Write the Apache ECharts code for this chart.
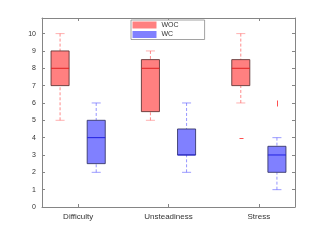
<!DOCTYPE html>
<html><head><meta charset="utf-8">
<script src="https://cdn.jsdelivr.net/npm/echarts@6/dist/echarts.min.js"></script>
<style>html,body{margin:0;padding:0;background:#fff}#c{width:327px;height:245px}</style>
</head><body><div id="c"></div>
<script>
var categories = ['Difficulty', 'Unsteadiness', 'Stress'];
// [min, Q1, median, Q3, max]
var wocStats = [[5, 7, 8, 9, 10], [5, 5.5, 8, 8.5, 9], [6, 7, 8, 8.5, 10]];
var wcStats = [[2, 2.5, 4, 5, 6], [2, 3, 3, 4.5, 6], [1, 2, 3, 3.5, 4]];
// outliers: [categoryIndex, value]
var wocOutliers = [[2, 4]];
var wcOutliers = [[2, 6]];
var yTicks = [0, 1, 2, 3, 4, 5, 6, 7, 8, 9, 10];

var chart = echarts.init(document.getElementById('c'), null, {renderer: 'canvas'});

function boxSeries(name, stats, offset, fill, stroke, medColor, whiskColor, capColor) {
  return {
    name: name, type: 'custom', color: fill,
    data: stats.map(function (s, i) { return [i + 1 + offset].concat(s); }),
    encode: {x: 0, y: [1, 2, 3, 4, 5]},
    renderItem: function (params, api) {
      var x = api.value(0);
      var half = 0.1, capHalf = 0.05;
      var pMin = api.coord([x, api.value(1)]);
      var pQ1 = api.coord([x, api.value(2)]);
      var pMed = api.coord([x, api.value(3)]);
      var pQ3 = api.coord([x, api.value(4)]);
      var pMax = api.coord([x, api.value(5)]);
      var xl = api.coord([x - half, 0])[0], xr = api.coord([x + half, 0])[0];
      var cl = api.coord([x - capHalf, 0])[0], cr = api.coord([x + capHalf, 0])[0];
      var dash = {stroke: whiskColor, lineWidth: 1, lineDash: [3, 2]};
      return {type: 'group', children: [
        {type: 'line', shape: {x1: pMax[0], y1: pMax[1], x2: pQ3[0], y2: pQ3[1]}, style: dash},
        {type: 'line', shape: {x1: pMin[0], y1: pMin[1], x2: pQ1[0], y2: pQ1[1]}, style: dash},
        {type: 'line', shape: {x1: cl, y1: pMax[1], x2: cr, y2: pMax[1]}, style: {stroke: capColor, lineWidth: 1}},
        {type: 'line', shape: {x1: cl, y1: pMin[1], x2: cr, y2: pMin[1]}, style: {stroke: capColor, lineWidth: 1}},
        {type: 'rect', shape: {x: xl, y: pQ3[1], width: xr - xl, height: pQ1[1] - pQ3[1]}, style: {fill: fill, stroke: stroke, lineWidth: 1}},
        {type: 'line', shape: {x1: xl, y1: pMed[1], x2: xr, y2: pMed[1]}, style: {stroke: medColor, lineWidth: 1}}
      ]};
    },
    z: 3
  };
}

function outlierSeries(name, pts, offset, vertical) {
  return {
    name: name + '_out', type: 'custom',
    data: pts.map(function (p) { return [p[0] + 1 + offset, p[1]]; }),
    encode: {x: 0, y: 1},
    renderItem: function (params, api) {
      var p = api.coord([api.value(0), api.value(1)]);
      var cx = Math.round(p[0]) + 0.5, cy = Math.round(p[1]) + 0.5;
      var sh = vertical ? {x1: cx, y1: cy - 3, x2: cx, y2: cy + 3} : {x1: cx - 2, y1: cy, x2: cx + 2, y2: cy};
      return {type: 'line', shape: sh, style: {stroke: '#ff5050', lineWidth: 1}};
    },
    z: 3
  };
}

var axisCol = '#858585';
chart.setOption({
  animation: false,
  grid: {left: 42, right: 32, top: 18, bottom: 38, show: false},
  legend: {
    data: ['WOC', 'WC'], orient: 'vertical', left: 131, top: 20,
    itemWidth: 24, itemHeight: 7, itemGap: 2.5, icon: 'rect',
    padding: [1.5, 26, 1.5, 1.5],
    borderColor: '#8a8a8a', borderWidth: 0.8, backgroundColor: '#fff',
    textStyle: {fontSize: 7, color: '#333', fontFamily: 'Liberation Sans'}
  },
  xAxis: [{
    type: 'value', min: 0.6, max: 3.4, position: 'bottom',
    axisLine: {show: true, onZero: false, lineStyle: {color: axisCol}},
    axisTick: {show: true, inside: true, length: 3, customValues: [1, 2, 3], lineStyle: {color: axisCol}},
    axisLabel: {customValues: [1, 2, 3], formatter: function (v) { return categories[Math.round(v) - 1]; }, fontSize: 8, color: '#333', margin: 6, fontFamily: 'Liberation Sans'},
    splitLine: {show: false}
  }, {
    type: 'value', min: 0.6, max: 3.4, position: 'top',
    axisLine: {show: true, onZero: false, lineStyle: {color: axisCol}},
    axisTick: {show: true, inside: true, length: 3, customValues: [1, 2, 3], lineStyle: {color: axisCol}},
    axisLabel: {show: false}, splitLine: {show: false}
  }],
  yAxis: [{
    type: 'value', min: 0, max: 10.9, position: 'left',
    axisLine: {show: true, onZero: false, lineStyle: {color: axisCol}},
    axisTick: {show: true, inside: true, length: 3, customValues: yTicks, lineStyle: {color: axisCol}},
    axisLabel: {customValues: yTicks, fontSize: 7, color: '#333', margin: 6, fontFamily: 'Liberation Sans'},
    splitLine: {show: false}
  }, {
    type: 'value', min: 0, max: 10.9, position: 'right',
    axisLine: {show: true, onZero: false, lineStyle: {color: axisCol}},
    axisTick: {show: true, inside: true, length: 3, customValues: yTicks, lineStyle: {color: axisCol}},
    axisLabel: {show: false}, splitLine: {show: false}
  }],
  series: [
    boxSeries('WOC', wocStats, -0.2, '#ff8080', 'rgba(80,40,40,0.8)', '#e02020', 'rgba(255,60,60,0.6)', 'rgba(255,100,100,0.5)'),
    boxSeries('WC', wcStats, 0.2, '#8080ff', 'rgba(40,40,90,0.8)', '#2020e0', 'rgba(80,80,255,0.6)', 'rgba(90,90,255,0.6)'),
    outlierSeries('WOC', wocOutliers, -0.2, false),
    outlierSeries('WC', wcOutliers, 0.2, true)
  ]
});
</script></body></html>
